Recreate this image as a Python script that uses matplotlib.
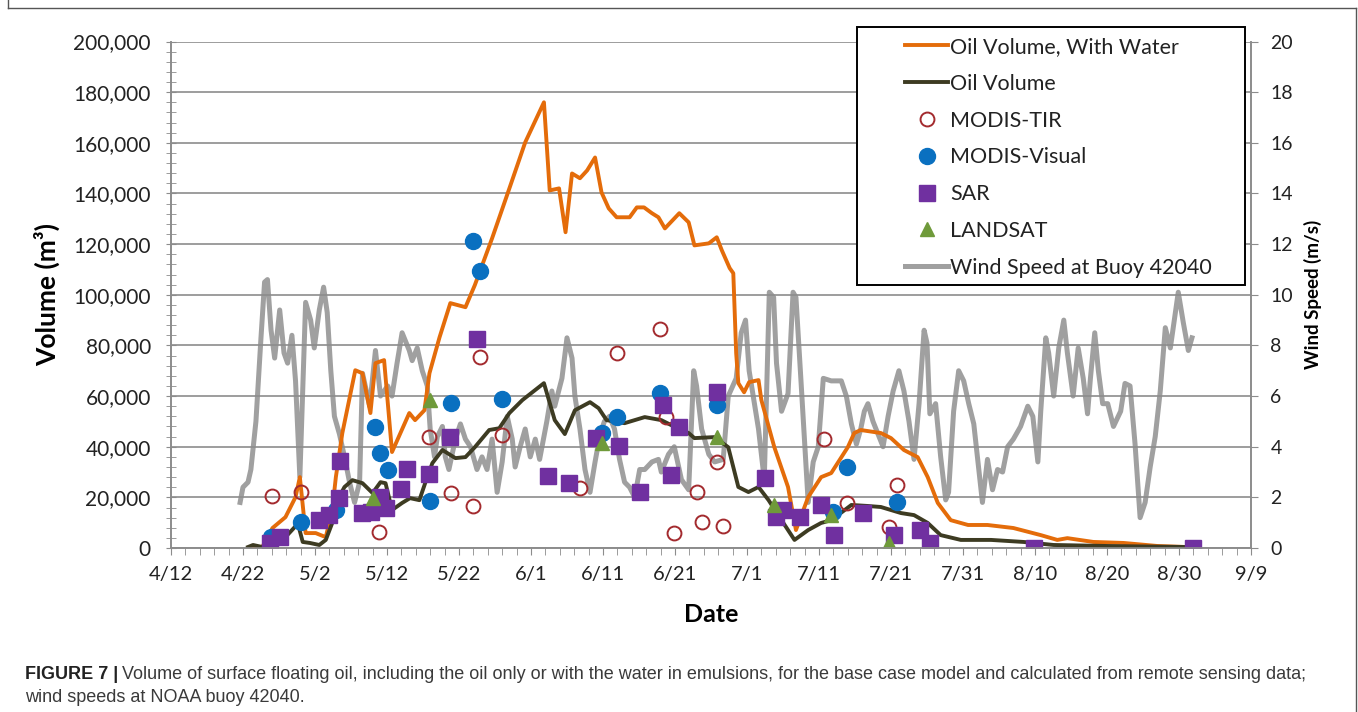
import matplotlib
matplotlib.use("Agg")
import matplotlib.pyplot as plt
from matplotlib.ticker import MultipleLocator, StrMethodFormatter
from matplotlib.lines import Line2D
from matplotlib.patches import Rectangle

# x values are days after 4/12
date_labels = ['4/12', '4/22', '5/2', '5/12', '5/22', '6/1', '6/11', '6/21',
               '7/1', '7/11', '7/21', '7/31', '8/10', '8/20', '8/30', '9/9']

water_day = [11.5, 12.7, 14.1, 15.9, 17.3, 17.9, 18.7, 20.1, 21.5, 22.4, 22.9, 23.8,
             25.6, 26.6, 27.7, 28.4, 29.6, 30.7, 33.1, 33.9, 35.2, 35.9, 37.3, 38.8,
             40.9, 42.2, 44.6, 47.0, 49.2, 51.8, 52.6, 53.9, 54.8, 55.7, 56.8, 57.8,
             58.9, 59.8, 60.8, 61.9, 63.7, 64.7, 65.7, 66.8, 67.7, 68.6, 70.6, 71.9,
             72.7, 74.7, 75.8, 76.5, 77.6, 78.1, 78.5, 78.8, 79.6, 80.3, 81.6, 82.0,
             83.8, 85.7, 86.8, 88.5, 90.3, 91.7, 94.0, 94.9, 95.8, 98.6, 100.0, 101.8,
             103.7, 105.1, 106.5, 108.3, 110.7, 113.4, 117.0, 120.8, 123.1, 124.5,
             128.1, 132.3, 137.0, 141.1]
water_vol = [0, 500, 7900, 12200, 20100, 28000, 5900, 5900, 4300, 15000, 28000, 45400,
             70200, 69000, 53300, 73000, 74200, 37900, 53300, 50500, 54400, 69000, 83200, 96700,
             95100, 103800, 122300, 142000, 160200, 176000, 141200, 142000, 124700, 147900, 146000, 149100,
             154200, 140400, 134100, 130600, 130600, 134500, 134500, 132200, 130600, 126200, 132200, 128600,
             119500, 120300, 122700, 117600, 110500, 108500, 76900, 65100, 61500, 65500, 66300, 58400,
             39800, 24100, 7100, 20100, 28000, 29600, 39800, 45400, 46600, 45400, 43400, 38700,
             35900, 28000, 17800, 11000, 9100, 9100, 7900, 5100, 3200, 3900,
             2400, 2000, 800, 400]

oil_day = [10.7, 11.4, 12.7, 14.5, 15.9, 17.2, 17.6, 18.3, 19.3, 20.6, 21.5, 22.4,
           22.9, 24.1, 25.2, 26.6, 28.0, 29.1, 29.8, 30.7, 32.1, 33.2, 34.5, 35.3,
           36.3, 37.7, 39.5, 40.9, 42.2, 44.2, 45.6, 47.0, 48.8, 51.8, 53.3, 54.7,
           56.1, 58.2, 59.4, 60.5, 63.0, 65.8, 68.1, 69.5, 71.9, 72.7, 75.5, 77.4,
           78.8, 80.2, 81.6, 83.0, 84.8, 86.6, 88.5, 90.3, 91.7, 94.5, 96.8, 98.6,
           101.4, 103.2, 105.1, 106.9, 109.7, 113.9, 118.4, 122.6, 130.1, 141.1]
oil_vol = [400, 1200, 400, 3200, 4300, 8300, 9900, 2400, 2000, 1200, 3200, 9900,
           17800, 24100, 26800, 25600, 21700, 26000, 25600, 15000, 17800, 19700, 18900, 25600,
           33500, 38700, 35500, 35900, 39800, 46600, 47300, 53300, 58400, 65100, 50500, 45000,
           54400, 57600, 55200, 50500, 49300, 51700, 50500, 48500, 45400, 43400, 43800, 39800,
           24100, 22100, 24100, 18900, 11000, 3200, 7100, 9900, 11000, 17000, 16600, 16200,
           13800, 13000, 9900, 5100, 3200, 3200, 2400, 1200, 800, 400]

wind_day = [9.6, 10.0, 10.7, 11.1, 11.8, 12.5, 13.0, 13.4, 13.9, 14.4, 15.1, 15.7,
            16.2, 16.8, 17.3, 17.9, 18.7, 19.4, 19.9, 20.6, 21.2, 21.7, 22.2, 22.7,
            23.4, 24.1, 24.8, 25.5, 26.2, 26.6, 27.6, 28.4, 29.1, 30.1, 30.7, 31.4,
            32.1, 33.1, 33.5, 34.2, 34.9, 35.6, 36.0, 36.6, 37.0, 37.7, 38.1, 38.6,
            39.5, 40.2, 40.9, 41.6, 42.5, 43.2, 43.9, 44.6, 45.3, 46.0, 46.7, 47.4,
            47.8, 48.5, 49.2, 49.9, 50.6, 51.2, 52.2, 52.9, 53.3, 54.3, 55.0, 55.7,
            56.1, 56.8, 57.5, 58.2, 58.9, 59.6, 60.2, 60.9, 61.6, 62.3, 63.0, 63.7,
            64.4, 65.1, 65.8, 66.8, 67.7, 68.1, 69.1, 69.9, 70.9, 71.9, 72.6, 73.0,
            73.7, 74.7, 75.5, 76.7, 77.4, 78.5, 79.2, 79.8, 80.3, 81.6, 82.4, 83.1,
            83.7, 84.1, 84.8, 85.7, 86.4, 86.8, 87.5, 88.5, 89.2, 89.9, 90.6, 91.7,
            93.1, 93.8, 94.5, 95.2, 95.8, 96.3, 96.8, 97.5, 98.2, 98.9, 99.6, 100.3,
            101.1, 101.8, 102.5, 103.2, 103.9, 104.6, 105.0, 105.4, 106.2, 106.9, 107.6, 108.0,
            108.7, 109.4, 110.1, 110.8, 111.5, 112.2, 112.7, 113.4, 114.1, 114.8, 115.5, 116.2,
            117.0, 118.0, 119.0, 119.7, 120.4, 120.8, 121.5, 121.9, 122.6, 123.3, 124.0, 124.5,
            125.3, 126.0, 126.7, 127.3, 127.7, 128.3, 128.8, 129.4, 130.1, 130.9, 131.9, 132.5,
            133.2, 133.9, 134.6, 135.3, 136.0, 136.7, 137.4, 138.1, 138.8, 139.2, 139.9, 140.6,
            141.3, 141.8]
wind_speed = [1.8, 2.4, 2.6, 3.1, 5.0, 8.3, 10.5, 10.6, 8.6, 7.5, 9.4, 7.7,
              7.3, 8.4, 6.6, 2.8, 9.7, 9.0, 7.9, 9.4, 10.3, 9.3, 7.0, 5.2,
              4.5, 3.6, 2.6, 1.8, 2.6, 6.9, 5.6, 7.8, 6.0, 6.4, 6.0, 7.3,
              8.5, 7.8, 7.4, 7.9, 7.0, 6.4, 4.7, 3.6, 4.4, 4.8, 3.6, 3.1,
              4.3, 4.9, 4.3, 4.0, 3.1, 3.6, 3.1, 4.3, 2.2, 3.4, 5.2, 4.3,
              3.2, 4.0, 4.7, 3.6, 4.3, 3.5, 5.0, 6.2, 5.6, 6.7, 8.3, 7.5,
              6.0, 4.7, 3.1, 2.2, 3.4, 4.5, 5.0, 5.2, 4.7, 3.5, 2.6, 2.4,
              2.0, 3.1, 3.1, 3.4, 3.5, 3.0, 3.7, 4.0, 2.7, 2.3, 7.0, 6.4,
              4.7, 3.7, 3.4, 3.5, 6.0, 6.7, 8.5, 9.0, 7.0, 4.7, 2.7, 10.1,
              9.9, 7.3, 5.4, 6.1, 10.1, 9.9, 6.6, 1.8, 3.4, 4.0, 6.7, 6.6,
              6.6, 6.0, 4.9, 4.1, 4.7, 5.4, 5.7, 5.0, 4.5, 4.0, 5.2, 6.2,
              7.0, 6.2, 5.0, 3.5, 5.7, 8.6, 8.1, 5.3, 5.7, 3.6, 1.9, 2.2,
              5.4, 7.0, 6.6, 5.7, 4.9, 3.1, 1.8, 3.5, 2.3, 3.1, 3.0, 4.0,
              4.3, 4.8, 5.6, 5.2, 3.4, 5.4, 8.3, 7.7, 6.0, 7.9, 9.0, 7.7,
              6.0, 7.9, 6.7, 5.3, 6.7, 8.5, 7.0, 5.7, 5.7, 4.8, 5.4, 6.5,
              6.4, 4.1, 1.2, 1.8, 3.2, 4.4, 6.2, 8.7, 7.9, 8.7, 10.1, 8.9,
              7.8, 8.3]

tir_day = [14.1, 18.0, 28.9, 35.9, 38.9, 42.0, 42.9, 46.0, 56.8, 61.9, 67.9, 68.8,
           69.9, 73.0, 73.7, 75.8, 76.7, 90.7, 93.9, 99.7, 100.8]
tir_vol = [20500, 22100, 6300, 43800, 21700, 16600, 75300, 44600, 23700, 76900, 86400, 51700,
           5900, 22100, 10300, 33900, 8700, 43000, 17800, 8300, 24900]

vis_day = [13.9, 18.1, 22.9, 28.3, 29.1, 30.1, 36.0, 38.9, 42.0, 42.9, 46.0, 59.8,
           61.9, 67.9, 75.8, 92.0, 93.9, 100.8]
vis_vol = [4300, 10300, 15000, 47700, 37500, 30800, 18500, 57200, 121100, 109300, 58800, 45400,
           51700, 61100, 56400, 14200, 32000, 18100]

sar_day = [13.7, 15.1, 20.6, 22.0, 23.4, 23.5, 26.6, 27.8, 29.1, 29.9, 31.9, 32.8,
           35.9, 38.8, 42.5, 52.4, 55.3, 59.1, 62.2, 65.1, 68.3, 69.5, 70.6, 75.9,
           82.5, 84.0, 85.0, 87.3, 90.3, 92.1, 96.1, 100.4, 104.0, 105.4, 119.8, 142.0]
sar_vol = [2000, 4300, 11000, 13000, 19700, 34300, 13800, 14200, 20100, 15800, 23300, 31200,
           29200, 43800, 82500, 28400, 25600, 43400, 40200, 22100, 56400, 28800, 47700, 61500,
           27600, 12200, 15000, 12200, 17000, 5100, 13800, 5100, 7100, 2000, 0, 0]

landsat_day = [28.0, 36.0, 59.8, 75.8, 83.8, 91.7, 99.7]
landsat_vol = [19700, 58400, 41400, 43800, 17000, 13000, 2000]

plt.rcParams['font.family'] = ['Lato', 'DejaVu Sans']

fig = plt.figure(figsize=(13.58, 7.12), dpi=100)
ax = fig.add_axes([0.1259, 0.2303, 0.7953, 0.7114])
ax2 = ax.twinx()
ax.set_zorder(ax2.get_zorder() + 1)
ax.patch.set_visible(False)

grid_c = '#8c8c8c'
ax2.plot(wind_day, wind_speed, color='#a0a0a0', lw=3.6, solid_joinstyle='round',
         label='Wind Speed at Buoy 42040')
ax.plot(water_day, water_vol, color='#e46c0a', lw=2.8, label='Oil Volume, With Water')
ax.plot(oil_day, oil_vol, color='#3d3b22', lw=2.8, label='Oil Volume')
ax.plot(tir_day, tir_vol, 'o', ms=10, mfc='none', mec='#a32a2e', mew=1.4, label='MODIS-TIR')
ax.plot(vis_day, vis_vol, 'o', ms=11.5, color='#0a70c0', label='MODIS-Visual')
ax.plot(sar_day, sar_vol, 's', ms=11, color='#7030a0', label='SAR')
ax.plot(landsat_day, landsat_vol, '^', ms=10, color='#6f9a3a', label='LANDSAT')

ax.set_xlim(0, 150)
ax.set_ylim(0, 200000)
ax2.set_ylim(0, 20)
ax.xaxis.set_minor_locator(MultipleLocator(2))
ax.set_xticks(range(0, 151, 10))
ax.set_xticklabels(date_labels)
ax.yaxis.set_major_locator(MultipleLocator(20000))
ax.yaxis.set_minor_locator(MultipleLocator(4000))
ax.yaxis.set_major_formatter(StrMethodFormatter('{x:,.0f}'))
ax2.yaxis.set_major_locator(MultipleLocator(2))

ax.grid(axis='y', color=grid_c, lw=1.2)
ax.set_axisbelow(True)
for a in (ax, ax2):
    a.spines['top'].set_visible(False)
    for s in ('left', 'right', 'bottom'):
        a.spines[s].set_color(grid_c)
        a.spines[s].set_linewidth(1.2)

ax.tick_params(axis='x', which='both', direction='out', length=5, color=grid_c,
               labelsize=14.5, pad=8, labelcolor='#222222')
ax.tick_params(axis='y', which='both', direction='inout', length=7, color=grid_c,
               labelsize=15, pad=11, labelcolor='#222222')
ax2.tick_params(axis='y', direction='out', length=5, color=grid_c,
                labelsize=14, pad=9, labelcolor='#222222')

ax.set_xlabel('Date', fontsize=18, fontweight='bold', labelpad=14)
ax.set_ylabel('Volume (m³)', fontsize=19, fontweight='bold')
ax.yaxis.set_label_coords(-0.103, 0.5)
ax2.set_ylabel('Wind Speed (m/s)', fontsize=13.5, fontweight='bold')
ax2.yaxis.set_label_coords(1.049, 0.5)

# legend with its own frame
fig.add_artist(Rectangle((857 / 1358, 1 - 285 / 712), 388 / 1358, 258 / 712,
                         transform=fig.transFigure, fill=True, facecolor='white',
                         edgecolor='black', lw=1.4, zorder=5))
h1, l1 = ax.get_legend_handles_labels()
h2, l2 = ax2.get_legend_handles_labels()
leg = fig.legend(h1 + h2, l1 + l2, loc='upper left', bbox_to_anchor=(905 / 1358, 1 - 37 / 712),
                 frameon=False, fontsize=15.5, handlelength=2.0, handletextpad=0.1,
                 labelspacing=0.78, borderpad=0, borderaxespad=0)
leg.set_zorder(6)
for t in leg.get_texts():
    t.set_color('#222222')

# outer frame
for xs, ys in (([8, 8], [0, 8]), ([8, 1356], [8, 8]), ([1356, 1356], [8, 712])):
    fig.add_artist(Line2D([x / 1358 for x in xs], [1 - y / 712 for y in ys],
                          transform=fig.transFigure, color='#555555', lw=1))

# caption
fig.text(25 / 1358, 1 - 679 / 712, 'FIGURE 7 |', fontsize=13, fontweight='bold',
         family='Liberation Sans', color='#222222', va='baseline')
fig.text(122 / 1358, 1 - 679 / 712,
         'Volume of surface floating oil, including the oil only or with the water in '
         'emulsions, for the base case model and calculated from remote sensing data;',
         fontsize=13, family='Liberation Sans', color='#3a3a3a', va='baseline')
fig.text(25 / 1358, 1 - 702 / 712, 'wind speeds at NOAA buoy 42040.', fontsize=13,
         family='Liberation Sans', color='#3a3a3a', va='baseline')

fig.savefig('out.png', dpi=100)
